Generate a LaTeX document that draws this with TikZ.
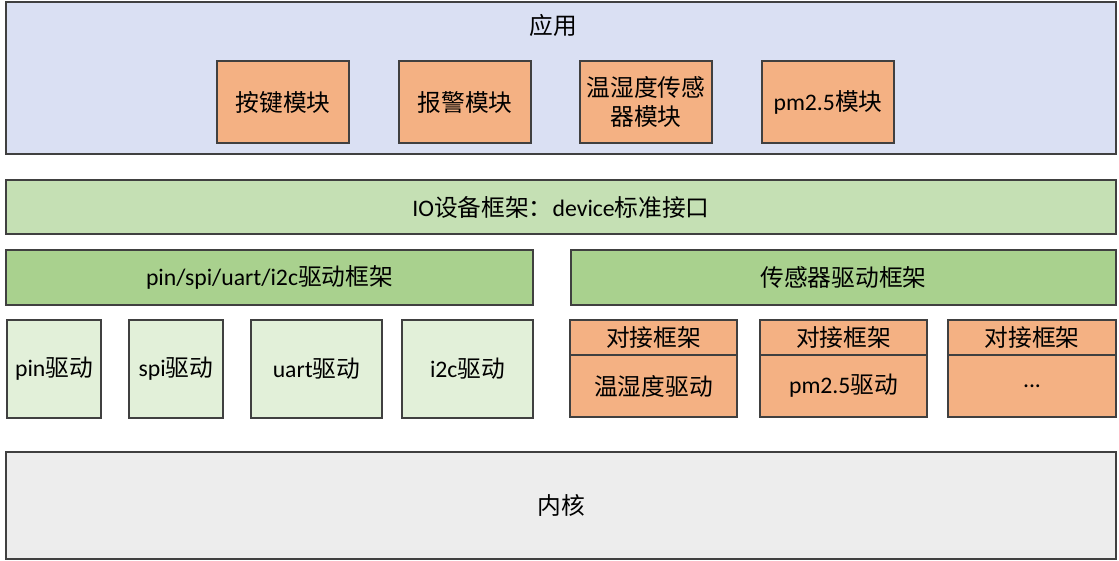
\documentclass[tikz,border=0pt]{standalone}
\usepackage{fontspec}
\setmainfont{Carlito}
\newfontfamily\zhfont{Noto Sans CJK SC}
\newcommand{\zh}[1]{{\zhfont #1}}
\usetikzlibrary{positioning}
\definecolor{appblue}{HTML}{DAE0F3}
\definecolor{modorange}{HTML}{F4B183}
\definecolor{iogreen}{HTML}{C5E0B4}
\definecolor{fwgreen}{HTML}{A9D18E}
\definecolor{drvgreen}{HTML}{E2F0D9}
\definecolor{kernelgray}{HTML}{EDEDED}
\definecolor{edgegray}{HTML}{404040}
\tikzset{
  box/.style={draw=edgegray, line width=0.8pt, anchor=north west, inner sep=0pt, outer sep=0pt,
    align=center, font=\fontsize{13.5}{17}\selectfont},
  sz/.style 2 args={minimum width=#1*0.02cm, minimum height=#2*0.02cm},
}

\begin{document}
\begin{tikzpicture}[x=0.02cm, y=-0.02cm]
        \useasboundingbox (0,0) rectangle (1119,561);

        \node[box, fill=appblue, sz={1110}{152}] (app) at (6,2) {};
        \node[font=\fontsize{13.5}{17}\selectfont] (apptitle) at (553,25) {\zh{应用}};
        \node[box, fill=modorange, sz={132}{82}] (keymod) at (217,61) {\zh{按键模块}};
        \node[box, fill=modorange, sz={132}{82}] (alarmmod) at (399,61) {\zh{报警模块}};
        \node[box, fill=modorange, sz={132}{82}] (thmod) at (580,61) {\zh{温湿度传感}\\\zh{器模块}};
        \node[box, fill=modorange, sz={132}{82}] (pmmod) at (762,61) {pm2.5\zh{模块}};

        \node[box, fill=iogreen, sz={1110}{54}] (io) at (6,180) {IO\zh{设备框架：}device\zh{标准接口}};

        \node[box, fill=fwgreen, sz={527}{55}] (busfw) at (6,250) {pin/spi/uart/i2c\zh{驱动框架}};
        \node[box, fill=fwgreen, sz={545}{55}] (sensorfw) at (571,250) {\zh{传感器驱动框架}};

        \node[box, fill=drvgreen, sz={94}{98}] (pindrv) at (7,320) {pin\zh{驱动}};
        \node[box, fill=drvgreen, sz={94}{98}] (spidrv) at (129,320) {spi\zh{驱动}};
        \node[box, fill=drvgreen, sz={131}{98}] (uartdrv) at (251,320) {uart\zh{驱动}};
        \node[box, fill=drvgreen, sz={131}{98}] (i2cdrv) at (402,320) {i2c\zh{驱动}};

        \node[box, fill=modorange, sz={167}{35}] (dock1) at (570,320) {\zh{对接框架}};
        \node[box, fill=modorange, sz={167}{62}] (thdrv) at (dock1.south west) {\zh{温湿度驱动}};
        \node[box, fill=modorange, sz={167}{35}] (dock2) at (760,320) {\zh{对接框架}};
        \node[box, fill=modorange, sz={167}{62}] (pmdrv) at (dock2.south west) {pm2.5\zh{驱动}};
        \node[box, fill=modorange, sz={168}{35}] (dock3) at (948,320) {\zh{对接框架}};
        \node[box, fill=modorange, sz={168}{62}] (moredrv) at (dock3.south west) {...};

        \node[box, fill=kernelgray, sz={1110}{107}] (kernel) at (6,452) {\zh{内核}};
    \end{tikzpicture}
\end{document}
